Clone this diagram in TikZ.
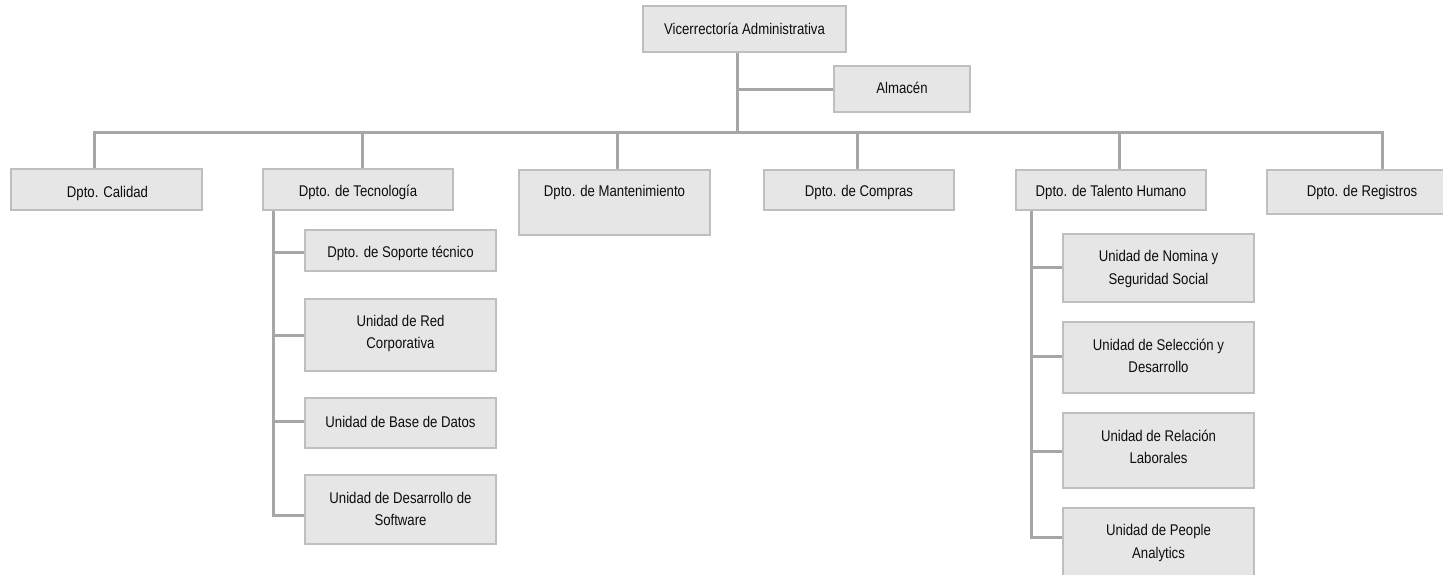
\documentclass[tikz,border=0pt]{standalone}
\usepackage{fontspec}
\setmainfont{Liberation Sans}[FakeStretch=0.85]
\usetikzlibrary{backgrounds}
\definecolor{boxfill}{HTML}{E7E6E7}
\definecolor{boxline}{HTML}{BFBFBF}
\definecolor{connc}{HTML}{A6A6A6}
\definecolor{txtc}{HTML}{0D0D0D}
\begin{document}
\begin{tikzpicture}[x=1bp,y=-1bp,
  box/.style={draw=boxline,fill=boxfill,line width=2bp,inner sep=0pt,outer sep=0pt},
  lbl/.style={font=\fontsize{15.5bp}{22.7bp}\selectfont,align=center,inner sep=0pt,text=txtc},
  conn/.style={draw=connc,line width=3bp,line join=miter}]
\clip (0,0) rectangle (1443,575);
% boxes
\node[box,minimum width=203bp,minimum height=46bp] (vice) at (744.5,29) {};
\node[box,minimum width=136bp,minimum height=46bp] (alm) at (902,89) {};
\node[box,minimum width=191bp,minimum height=41bp] (cal) at (106.5,189.5) {};
\node[box,minimum width=190bp,minimum height=41bp] (tec) at (358,189.5) {};
\node[box,minimum width=191bp,minimum height=65bp] (mant) at (614.5,202.5) {};
\node[box,minimum width=190bp,minimum height=40bp] (comp) at (859,190) {};
\node[box,minimum width=190bp,minimum height=40bp] (tal) at (1111,190) {};
\node[box,minimum width=190bp,minimum height=44bp] (reg) at (1362,192) {};
\node[box,minimum width=191bp,minimum height=41bp] (sop) at (400.5,250.5) {};
\node[box,minimum width=191bp,minimum height=72bp] (red) at (400.5,335) {};
\node[box,minimum width=191bp,minimum height=50bp] (bd) at (400.5,423) {};
\node[box,minimum width=191bp,minimum height=69bp] (des) at (400.5,509.5) {};
\node[box,minimum width=191bp,minimum height=68bp] (nom) at (1158.5,268) {};
\node[box,minimum width=191bp,minimum height=71bp] (sel) at (1158.5,357.5) {};
\node[box,minimum width=191bp,minimum height=75bp] (rel) at (1158.5,450.5) {};
\node[box,minimum width=191bp,minimum height=71bp] (peo) at (1158.5,543.5) {};
% labels
\node[lbl] (vice-t) at (744.5,29) {Vicerrectoría Administrativa};
\node[lbl] (alm-t) at (902,88) {Almacén};
\node[lbl] (cal-t) at (107.5,193) {Dpto. Calidad};
\node[lbl] (tec-t) at (358,192.5) {Dpto. de Tecnología};
\node[lbl] (mant-t) at (614.5,192.5) {Dpto. de Mantenimiento};
\node[lbl] (comp-t) at (859,192.5) {Dpto. de Compras};
\node[lbl] (tal-t) at (1111,192.5) {Dpto. de Talento Humano};
\node[lbl] (reg-t) at (1362,192.5) {Dpto. de Registros};
\node[lbl] (sop-t) at (400.5,253.5) {Dpto. de Soporte técnico};
\node[lbl] (red-t) at (400.5,333.4) {Unidad de Red\\Corporativa};
\node[lbl] (bd-t) at (400.5,422) {Unidad de Base de Datos};
\node[lbl] (des-t) at (400.5,509) {Unidad de Desarrollo de\\Software};
\node[lbl] (nom-t) at (1158.5,269) {Unidad de Nomina y\\Seguridad Social};
\node[lbl] (sel-t) at (1158.5,356) {Unidad de Selección y\\Desarrollo};
\node[lbl] (rel-t) at (1158.5,447) {Unidad de Relación\\Laborales};
\node[lbl] (peo-t) at (1158.5,543) {Unidad de People\\Analytics};
% connectors
\begin{scope}[on background layer]
\fill[white] (0,0) rectangle (1443,575);
\coordinate (v) at (737,133);
\coordinate (va) at (737,90);
\draw[conn] (vice.south -| v) -- (v);
\draw[conn] (va) -- (va -| alm.west);
\coordinate (b1) at (94,133);
\coordinate (b6) at (1382,133);
\draw[conn] (cal.north -| b1) -- (b1) -- (b6) -- (reg.north -| b6);
\foreach \n/\x in {tec/362,mant/617,comp/857,tal/1119}
  \draw[conn] (\x,133) coordinate (d) -- (d |- \n.north);
% Tecnologia children
\coordinate (t1) at (273,252);
\coordinate (t2) at (273,335);
\coordinate (t3) at (273,421);
\coordinate (t4) at (273,515);
\draw[conn] (tec.south -| t4) -- (t4) -- (t4 -| des.west);
\draw[conn] (t1) -- (t1 -| sop.west);
\draw[conn] (t2) -- (t2 -| red.west);
\draw[conn] (t3) -- (t3 -| bd.west);
% Talento children
\coordinate (h1) at (1031,267);
\coordinate (h2) at (1031,356);
\coordinate (h3) at (1031,451);
\coordinate (h4) at (1031,537);
\draw[conn] (tal.south -| h4) -- (h4) -- (h4 -| peo.west);
\draw[conn] (h1) -- (h1 -| nom.west);
\draw[conn] (h2) -- (h2 -| sel.west);
\draw[conn] (h3) -- (h3 -| rel.west);
\end{scope}
\end{tikzpicture}
\end{document}
